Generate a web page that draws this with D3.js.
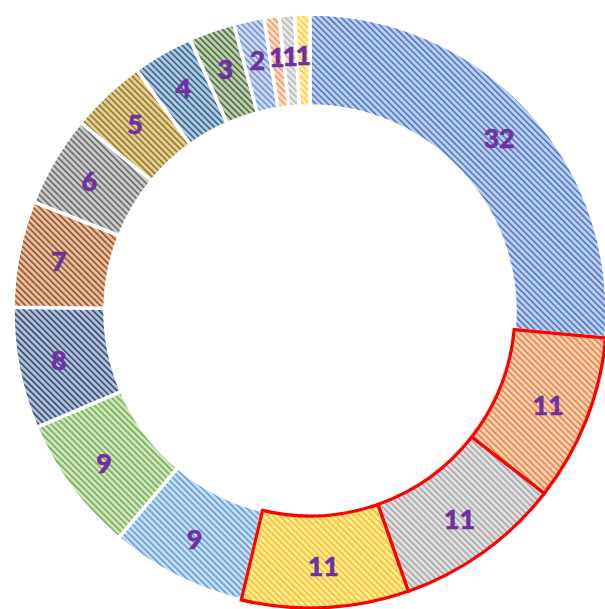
<!DOCTYPE html>
<html><head><meta charset="utf-8">
<script src="https://cdn.jsdelivr.net/npm/d3@7"></script>
<style>html,body{margin:0;padding:0;background:#fff;overflow:hidden}</style>
</head><body>
<svg id="c" width="605" height="609"></svg>
<script>
const values = [32, 11, 11, 11, 9, 9, 8, 7, 6, 5, 4, 3, 2, 1, 1, 1];
const colors = ["#4472C4","#ED7D31","#A5A5A5","#FFC000","#5B9BD5","#70AD47","#264478","#9E480E","#636363","#997300","#255E91","#43682B","#698ED0","#F1975A","#B7B7B7","#FFCD33"];
const highlighted = [1, 2, 3];

const svg = d3.select("#c");
const cx = 310, cy = 311, rOuter = 297, rInner = 205;
const defs = svg.append("defs");
colors.forEach((c, i) => {
  const p = defs.append("pattern").attr("id", "h" + i)
    .attr("patternUnits", "userSpaceOnUse").attr("width", 4.4).attr("height", 4.4)
    .attr("patternTransform", "rotate(-45)");
  p.append("rect").attr("width", 4.4).attr("height", 4.4)
    .attr("fill", d3.interpolateRgb(c, "#ffffff")(0.66));
  p.append("rect").attr("x", 0).attr("width", 1.5).attr("height", 4.4).attr("fill", c);
});

const pie = d3.pie().sort(null).value(d => d)(values);
const arc = d3.arc().innerRadius(rInner).outerRadius(rOuter);
const g = svg.append("g").attr("transform", `translate(${cx},${cy})`);

const order = pie.map((d, i) => i).filter(i => !highlighted.includes(i)).concat(highlighted);
order.forEach(i => {
  const d = pie[i];
  const hl = highlighted.includes(i);
  g.append("path").attr("d", arc(d))
    .attr("fill", `url(#h${i})`)
    .attr("stroke", hl ? "#FF0000" : "#ffffff")
    .attr("stroke-width", hl ? 3.2 : 3.5)
    .attr("stroke-linejoin", "miter");
});

const labelArc = d3.arc().innerRadius(256).outerRadius(256);
pie.forEach((d, i) => {
  const [x, y] = labelArc.centroid(d);
  g.append("text").attr("x", x).attr("y", y).attr("dy", "0.36em")
    .attr("text-anchor", "middle")
    .attr("font-family", "Lato, 'Open Sans', sans-serif")
    .attr("font-weight", 900).attr("font-size", 27)
    .attr("fill", "#7030A0").attr("stroke", "#7030A0").attr("stroke-width", 0.5)
    .text(d.data);
});
</script>
</body></html>
